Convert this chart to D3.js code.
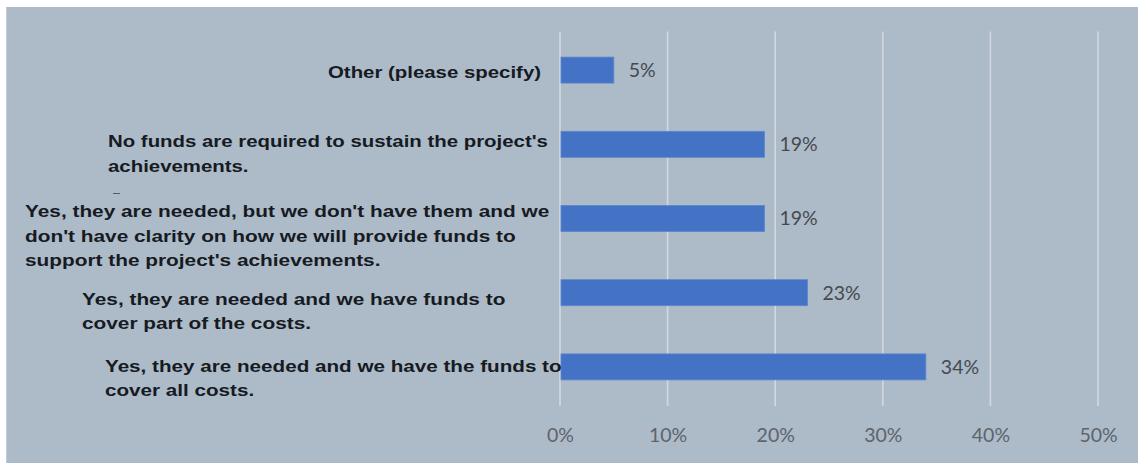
<!DOCTYPE html>
<html>
<head>
<meta charset="utf-8">
<script src="https://cdn.jsdelivr.net/npm/d3@7"></script>
<style>
  html, body { margin: 0; padding: 0; background: #ffffff; }
  svg { display: block; }
</style>
</head>
<body>
<svg id="chart" width="1138" height="463"></svg>
<script>
// Survey answers, top to bottom, with their share of respondents (%)
const categories = [
  "Other (please specify)",
  "No funds are required to sustain the project's achievements.",
  "Yes, they are needed, but we don't have them and we don't have clarity on how we will provide funds to support the project's achievements.",
  "Yes, they are needed and we have funds to cover part of the costs.",
  "Yes, they are needed and we have the funds to cover all costs."
];
const categoryLines = [
  ["Other (please specify)"],
  ["No funds are required to sustain the project's", "achievements."],
  ["Yes, they are needed, but we don't have them and we", "don't have clarity on how we will provide funds to", "support the project's achievements."],
  ["Yes, they are needed and we have funds to", "cover part of the costs."],
  ["Yes, they are needed and we have the funds to", "cover all costs."]
];
const values = [5, 19, 19, 23, 34];
const tickValues = [0, 10, 20, 30, 40, 50];
const tickLabels = ["0%", "10%", "20%", "30%", "40%", "50%"];

// Placement of each wrapped category label: left edge, horizontal stretch
// and offset of the first line from the bar centre
const labelLayout = [
  { left: 328, stretch: 1.2,   dy: 2 },
  { left: 108, stretch: 1.2,   dy: -3 },
  { left: 25,  stretch: 1.225, dy: -7 },
  { left: 82,  stretch: 1.225, dy: 6 },
  { left: 105, stretch: 1.215, dy: -1 }
];

const W = 1138, H = 463;
const svg = d3.select("#chart");

// panel background
svg.append("rect").attr("x", 6).attr("y", 7).attr("width", W - 6).attr("height", H - 7)
  .attr("fill", "#adbac8");
svg.append("line").attr("x1", 6.5).attr("x2", 6.5).attr("y1", 7).attr("y2", H)
  .attr("stroke", "#c3ccd6").attr("stroke-width", 1);

const x = d3.scaleLinear().domain([0, 50]).range([560, 1098]);
const y = d3.scaleBand().domain(categories).range([33, 404]).paddingInner(0.65).paddingOuter(0.325);

const gridTop = 31.5, gridBottom = 406;

// vertical gridlines
svg.append("g").selectAll("line").data(tickValues).join("line")
  .attr("x1", d => x(d)).attr("x2", d => x(d))
  .attr("y1", gridTop).attr("y2", gridBottom)
  .attr("stroke", "#d3d8de").attr("stroke-width", 1.6);

// bottom axis labels
const axis = d3.axisBottom(x).tickValues(tickValues)
  .tickFormat((d, i) => tickLabels[i]).tickSize(0).tickPadding(0);
const gAxis = svg.append("g").attr("transform", "translate(0,435)").call(axis);
gAxis.select(".domain").remove();
gAxis.selectAll("text")
  .attr("dy", "0.35em")
  .attr("fill", "#5c646c")
  .style("font-family", "Lato, 'Open Sans', sans-serif")
  .style("font-size", "19.5px");

// bars
svg.append("g").selectAll("rect").data(values).join("rect")
  .attr("x", x(0) + 1)
  .attr("y", (d, i) => y(categories[i]))
  .attr("width", d => x(d) - x(0) - 1)
  .attr("height", y.bandwidth())
  .attr("fill", "#4472c4")
  .attr("stroke", "#5b86cf").attr("stroke-width", 0.8);

// value labels
svg.append("g").selectAll("text").data(values).join("text")
  .attr("x", d => x(d) + 15)
  .attr("y", (d, i) => y(categories[i]) + y.bandwidth() / 2)
  .attr("dy", "0.35em")
  .attr("fill", "#454a50")
  .style("font-family", "Lato, 'Open Sans', sans-serif")
  .style("font-size", "19.5px")
  .text(d => d + "%");

// category labels, wrapped over several lines and set slightly wide
const lineStep = 24.5;
const gLabels = svg.append("g")
  .style("font-family", "'Liberation Sans', Arial, sans-serif")
  .style("font-weight", "bold")
  .style("font-size", "17px")
  .attr("fill", "#161a22");
categories.forEach((c, i) => {
  const L = labelLayout[i];
  const cy = y(c) + y.bandwidth() / 2 + L.dy;
  const t = gLabels.append("text")
    .attr("transform", `translate(${L.left},0) scale(${L.stretch},1)`);
  categoryLines[i].forEach((ln, j) => {
    t.append("tspan").attr("x", 0)
      .attr("y", cy + j * lineStep).attr("dy", "0.35em").text(ln);
  });
});

// stray hyphen mark under the second label
svg.append("line").attr("x1", 113).attr("x2", 120).attr("y1", 193.5).attr("y2", 193.5)
  .attr("stroke", "#555b66").attr("stroke-width", 1);
</script>
</body>
</html>
